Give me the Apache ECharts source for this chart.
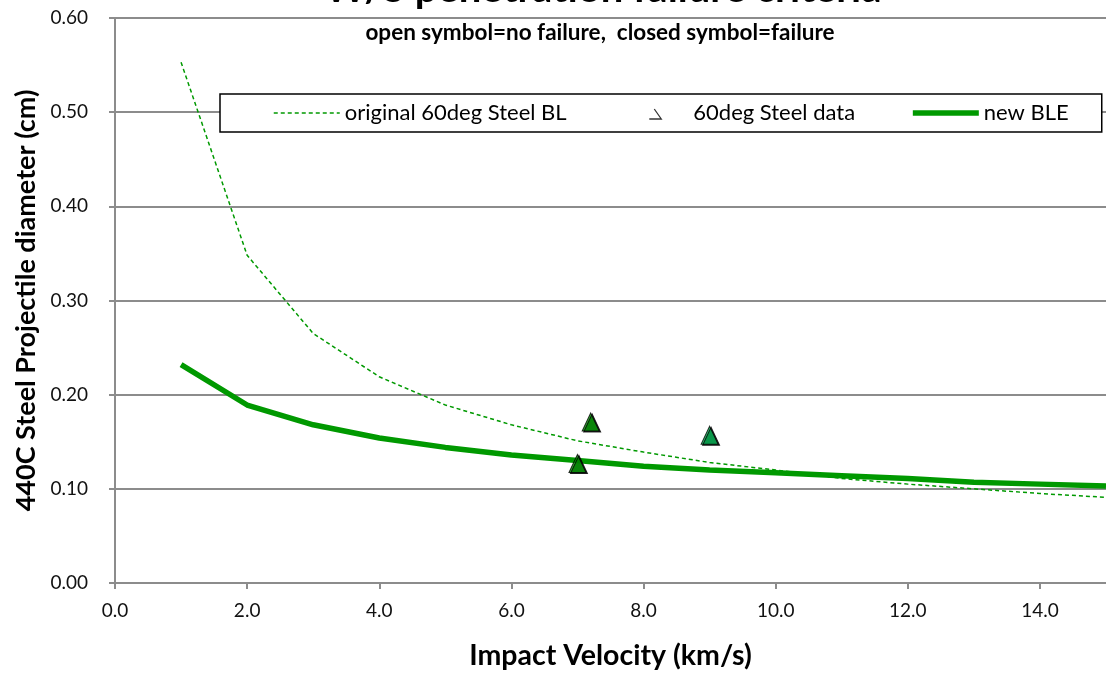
<!DOCTYPE html>
<html>
<head>
<meta charset="utf-8">
<script src="https://cdn.jsdelivr.net/npm/echarts@6/dist/echarts.min.js"></script>
<style>
  html, body { margin: 0; padding: 0; background: #fff; }
  #chart { width: 1106px; height: 673px; }
</style>
</head>
<body>
<div id="chart"></div>
<script>
const velocity = [1, 2, 3, 4, 5, 6, 7, 8, 9, 10, 11, 12, 13, 14, 15]
const originalBL = [0.553, 0.348, 0.265, 0.219, 0.189, 0.168, 0.151, 0.139, 0.128, 0.120, 0.111, 0.105, 0.100, 0.095, 0.091]
const newBLE = [0.232, 0.189, 0.168, 0.154, 0.144, 0.136, 0.130, 0.124, 0.120, 0.117, 0.114, 0.111, 0.107, 0.105, 0.103]
const steelX = [7.0, 7.2, 9.0]
const steelY = [0.127, 0.171, 0.157]
const steelColors = ['#009a00', '#009a00', '#00b050']

const font = 'Lato, "Open Sans", sans-serif'
const green = '#009900'

const chart = echarts.init(document.getElementById('chart'))

chart.setOption({
  animation: false,
  backgroundColor: '#fff',
  textStyle: { fontFamily: font },
  graphic: [
    {
      type: 'text',
      x: 603,
      y: 9,
      style: {
        text: 'W/S penetration failure criteria',
        font: 'bold 40px ' + font,
        fill: '#000',
        align: 'center',
        verticalAlign: 'bottom',
      },
    },
    {
      type: 'text',
      x: 600,
      y: 33,
      style: {
        text: 'open symbol=no failure,  closed symbol=failure',
        font: 'bold 22.5px ' + font,
        fill: '#000',
        align: 'center',
        verticalAlign: 'middle',
      },
    },
  ],
  legend: {
    left: 220,
    top: 94,
    width: 1000,
    padding: [8, 33, 8, 53],
    itemGap: 55,
    itemWidth: 66,
    itemHeight: 16,
    borderColor: '#000',
    borderWidth: 1.5,
    borderRadius: 0,
    backgroundColor: '#fff',
    textStyle: { fontSize: 22, color: '#000', fontFamily: font },
    data: [
      { name: 'original 60deg Steel BL', itemStyle: { opacity: 0 }, lineStyle: { width: 1.5 } },
      {
        name: '60deg Steel data',
        icon: 'path://M0,0M66,16M27,14L39,14L32,4',
        itemStyle: { color: 'transparent', borderColor: '#000', borderWidth: 1.3 },
      },
      { name: 'new BLE', itemStyle: { opacity: 0 }, lineStyle: { width: 5.5 } },
    ],
  },
  grid: { left: 115, right: 0, top: 18, bottom: 90, outerBoundsMode: 'none' },
  xAxis: {
    type: 'value',
    min: 0,
    max: 15,
    interval: 2,
    name: 'Impact Velocity (km/s)',
    nameLocation: 'middle',
    nameGap: 58,
    nameTextStyle: { fontSize: 28.5, fontWeight: 'bold', color: '#000', fontFamily: font },
    axisLine: { onZero: false, lineStyle: { color: '#8c8c8c', width: 2 } },
    axisTick: { show: true, length: 6, lineStyle: { color: '#8c8c8c', width: 2 } },
    axisLabel: {
      margin: 18,
      fontSize: 19,
      color: '#111',
      showMaxLabel: false,
      formatter: (v) => v.toFixed(1),
    },
    splitLine: { show: false },
  },
  yAxis: {
    type: 'value',
    min: 0,
    max: 0.6,
    interval: 0.1,
    name: '440C Steel Projectile diameter (cm)',
    nameLocation: 'middle',
    nameGap: 72,
    nameTextStyle: { fontSize: 27, fontWeight: 'bold', color: '#000', fontFamily: font },
    axisLine: { show: true, lineStyle: { color: '#8c8c8c', width: 2 } },
    axisTick: { show: true, length: 6, lineStyle: { color: '#8c8c8c', width: 2 } },
    axisLabel: {
      margin: 27,
      fontSize: 19,
      color: '#111',
      formatter: (v) => v.toFixed(2),
    },
    splitLine: { show: true, lineStyle: { color: '#8c8c8c', width: 2 } },
  },
  series: [
    {
      name: 'original 60deg Steel BL',
      type: 'line',
      data: velocity.map((v, i) => [v, originalBL[i]]),
      showSymbol: false,
      symbol: 'none',
      lineStyle: { color: green, width: 1.5, type: [4, 3] },
      itemStyle: { color: green },
      z: 3,
    },
    {
      name: '60deg Steel data',
      type: 'scatter',
      data: steelX.map((v, i) => [v, steelY[i]]),
      symbol: 'triangle',
      symbolSize: [17, 18],
      itemStyle: {
        color: (p) => steelColors[p.dataIndex],
        borderColor: '#000',
        borderWidth: 1,
        shadowColor: '#000',
        shadowOffsetX: 1.5,
        shadowOffsetY: 1,
      },
      z: 5,
    },
    {
      name: 'new BLE',
      type: 'line',
      data: velocity.map((v, i) => [v, newBLE[i]]),
      showSymbol: false,
      symbol: 'none',
      lineStyle: { color: green, width: 5.5 },
      itemStyle: { color: green },
      z: 4,
    },
  ],
})
</script>
</body>
</html>
